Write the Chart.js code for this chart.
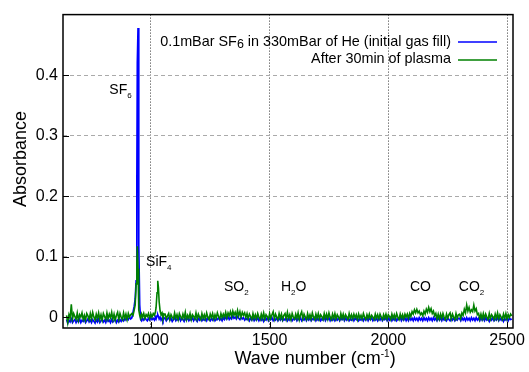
<!DOCTYPE html>
<html>
<head>
<meta charset="utf-8">
<script src="https://cdn.jsdelivr.net/npm/chart.js@4.4.1/dist/chart.umd.min.js"></script>
<style>
  html, body { margin: 0; padding: 0; background: #fff; }
  #wrap { width: 529px; height: 372px; position: relative; }
</style>
</head>
<body>
<div id="wrap"><canvas id="spectrum"></canvas></div>
<script>
// Wave number (cm-1) of each sample, shared by both spectra
const waveNumbers = [
  // 645 - 915
  645, 650, 655, 660, 665, 670, 675, 680, 685, 690,
  695, 700, 705, 710, 715, 720, 725, 730, 735, 740,
  745, 750, 755, 760, 765, 770, 775, 780, 785, 790,
  795, 800, 805, 810, 815, 820, 825, 830, 835, 840,
  845, 850, 855, 860, 865, 870, 875, 880, 885, 890,
  895, 900, 905, 910, 915,
  // SF6 / SiF4 band
  920, 925, 930, 934, 938, 941, 943, 946, 948, 950,
  953, 957, 961, 965, 970, 975, 980, 985, 990, 995,
  1000, 1005, 1010, 1015, 1019, 1022, 1026, 1029, 1032, 1035,
  1039, 1043, 1047, 1051, 1055,
  // 1060 - 2075
  1060, 1065, 1070, 1075, 1080, 1085, 1090, 1095, 1100, 1105,
  1110, 1115, 1120, 1125, 1130, 1135, 1140, 1145, 1150, 1155,
  1160, 1165, 1170, 1175, 1180, 1185, 1190, 1195, 1200, 1205,
  1210, 1215, 1220, 1225, 1230, 1235, 1240, 1245, 1250, 1255,
  1260, 1265, 1270, 1275, 1280, 1285, 1290, 1295, 1300, 1305,
  1310, 1315, 1320, 1325, 1330, 1335, 1340, 1345, 1350, 1355,
  1360, 1365, 1370, 1375, 1380, 1385, 1390, 1395, 1400, 1405,
  1410, 1415, 1420, 1425, 1430, 1435, 1440, 1445, 1450, 1455,
  1460, 1465, 1470, 1475, 1480, 1485, 1490, 1495, 1500, 1505,
  1510, 1515, 1520, 1525, 1530, 1535, 1540, 1545, 1550, 1555,
  1560, 1565, 1570, 1575, 1580, 1585, 1590, 1595, 1600, 1605,
  1610, 1615, 1620, 1625, 1630, 1635, 1640, 1645, 1650, 1655,
  1660, 1665, 1670, 1675, 1680, 1685, 1690, 1695, 1700, 1705,
  1710, 1715, 1720, 1725, 1730, 1735, 1740, 1745, 1750, 1755,
  1760, 1765, 1770, 1775, 1780, 1785, 1790, 1795, 1800, 1805,
  1810, 1815, 1820, 1825, 1830, 1835, 1840, 1845, 1850, 1855,
  1860, 1865, 1870, 1875, 1880, 1885, 1890, 1895, 1900, 1905,
  1910, 1915, 1920, 1925, 1930, 1935, 1940, 1945, 1950, 1955,
  1960, 1965, 1970, 1975, 1980, 1985, 1990, 1995, 2000, 2005,
  2010, 2015, 2020, 2025, 2030, 2035, 2040, 2045, 2050, 2055,
  2060, 2065, 2070, 2075,
  // CO band
  2080, 2085, 2090, 2095, 2100, 2105, 2110, 2115, 2120, 2125,
  2130, 2135, 2140, 2145, 2150, 2155, 2160, 2165, 2170, 2175,
  2180, 2185, 2190, 2195, 2200, 2205, 2210,
  2215, 2220, 2225, 2230, 2235, 2240, 2245, 2250, 2255, 2260,
  2265, 2270, 2275, 2280, 2285, 2290, 2295,
  // CO2 band
  2300, 2305, 2310, 2315, 2320, 2325, 2330, 2335, 2340, 2345,
  2350, 2355, 2360, 2365, 2370, 2375, 2380, 2385, 2390,
  2395, 2400, 2405, 2410, 2415, 2420, 2425, 2430, 2435, 2440,
  2445, 2450, 2455, 2460, 2465, 2470, 2475, 2480, 2485, 2490,
  2495, 2500, 2505, 2510, 2515, 2520,
];

// 0.1mBar SF6 in 330mBar of He (initial gas fill) – blue
const initialFill = [
  -0.004, -0.010, -0.005, -0.008, -0.003, -0.009, -0.006, -0.004, -0.009, -0.005,
  -0.008, -0.003, -0.009, -0.005, -0.007, -0.004, -0.009, -0.006, -0.003, -0.008,
  -0.005, -0.009, -0.004, -0.007, -0.010, -0.004, -0.008, -0.003, -0.009, -0.006,
  -0.004, -0.008, -0.005, -0.009, -0.003, -0.007, -0.005, -0.009, -0.004, -0.008,
  -0.006, -0.003, -0.009, -0.005, -0.008, -0.004, -0.007, -0.003, -0.006, -0.002,
  -0.005, -0.001, -0.004, 0.000, -0.003,

  -0.001, 0.008, 0.018, 0.030, 0.060, 0.220, 0.420, 0.478, 0.360, 0.120,
  0.020, -0.004, -0.006, -0.002, -0.005, -0.001, -0.004, -0.006, -0.002, -0.005,
  -0.001, -0.004, -0.002, -0.005, 0.000, -0.003, 0.002, 0.004, 0.001, -0.003,
  0.000, -0.005, -0.002, -0.006, -0.001,

  -0.002, -0.006, -0.003, -0.001, -0.005, -0.002, -0.007, -0.004, -0.001, -0.006,
  -0.003, -0.005, -0.001, -0.006, -0.002, -0.004, -0.007, -0.002, -0.005, -0.001,
  -0.006, -0.003, -0.005, -0.001, -0.006, -0.002, -0.004, -0.007, -0.002, -0.005,
  -0.001, -0.006, -0.003, -0.005, -0.002, -0.006, -0.001, -0.004, -0.006, -0.002,
  -0.005, -0.001, -0.006, -0.003, -0.004, -0.001, -0.005, -0.002, -0.006, -0.001,
  -0.004, 0.000, -0.003, 0.001, -0.004, -0.001, -0.003, 0.002, -0.002, 0.000,
  -0.003, 0.001, -0.002, -0.004, 0.000, -0.003, -0.001, -0.005, -0.002, -0.004,
  -0.001, -0.006, -0.002, -0.005, -0.001, -0.006, -0.003, -0.005, -0.001, -0.006,
  -0.002, -0.005, -0.001, -0.007, -0.003, -0.005, -0.001, -0.006, -0.002, -0.004,
  -0.001, -0.006, -0.003, -0.005, -0.001, -0.006, -0.002, -0.005, -0.001, -0.006,
  -0.003, -0.005, -0.001, -0.006, -0.002, -0.005, -0.001, -0.006, -0.003, -0.004,
  -0.001, -0.006, -0.002, -0.005, -0.001, -0.006, -0.003, -0.005, -0.001, -0.006,
  -0.002, -0.005, -0.001, -0.006, -0.003, -0.004, -0.001, -0.006, -0.002, -0.005,
  -0.001, -0.006, -0.003, -0.005, -0.001, -0.006, -0.002, -0.004, -0.001, -0.006,
  -0.002, -0.005, -0.001, -0.006, -0.003, -0.005, -0.001, -0.006, -0.002, -0.004,
  -0.001, -0.006, -0.002, -0.005, -0.001, -0.006, -0.003, -0.005, -0.001, -0.006,
  -0.002, -0.004, -0.001, -0.006, -0.003, -0.005, -0.001, -0.006, -0.002, -0.005,
  -0.001, -0.006, -0.002, -0.004, -0.001, -0.006, -0.003, -0.005, -0.001, -0.006,
  -0.002, -0.005, -0.001, -0.006, -0.003, -0.004, -0.001, -0.006, -0.002, -0.005,
  -0.001, -0.006, -0.002, -0.005, -0.001, -0.006, -0.003, -0.004, -0.001, -0.006,
  -0.002, -0.005, -0.001, -0.006,

  -0.002, -0.006, -0.001, -0.005, -0.002, -0.006, -0.001, -0.005, -0.002, -0.006,
  -0.001, -0.005, -0.002, -0.006, -0.001, -0.005, -0.002, -0.006, -0.001, -0.005,
  -0.002, -0.006, -0.001, -0.005, -0.002, -0.006, -0.001,
  -0.005, -0.002, -0.006, -0.001, -0.005, -0.003, -0.006, -0.001, -0.004, -0.006,
  -0.002, -0.005, -0.001, -0.006, -0.003, -0.005, -0.002,

  -0.002, -0.006, -0.001, -0.005, -0.002, -0.006, -0.001, -0.005, -0.002, -0.006,
  -0.001, -0.005, -0.002, -0.006, -0.001, -0.005, -0.002, -0.006, -0.001,
  -0.005, -0.002, -0.006, -0.001, -0.005, -0.003, -0.007, -0.002, -0.005, -0.001,
  -0.006, -0.003, -0.005, -0.001, -0.006, -0.002, -0.005, -0.001, -0.007, -0.003,
  -0.005, -0.001, -0.006, -0.002, -0.004, -0.003,
];

// After 30min of plasma – green
const afterPlasma = [
  0.003, -0.009, 0.004, -0.002, 0.021, -0.003, 0.006, 0.001, -0.004, 0.007,
  -0.005, 0.004, 0.000, 0.007, -0.004, 0.003, -0.005, 0.006, 0.002, -0.004,
  0.006, -0.003, 0.008, 0.000, -0.005, 0.005, -0.002, 0.007, -0.004, 0.004,
  -0.005, 0.006, 0.001, -0.004, 0.007, -0.003, 0.005, -0.001, 0.008, -0.004,
  0.005, -0.005, 0.003, 0.008, -0.004, 0.006, 0.000, -0.004, 0.007, -0.002,
  0.005, -0.004, 0.006, 0.000, 0.004,

  0.006, 0.003, 0.012, 0.020, 0.055, 0.090, 0.117, 0.080, 0.035, 0.012,
  0.003, -0.002, 0.005, 0.000, 0.006, -0.002, 0.004, 0.001, 0.006, -0.002,
  0.005, 0.000, 0.006, 0.003, 0.008, 0.016, 0.040, 0.060, 0.048, 0.025,
  0.010, 0.004, 0.007, -0.002, 0.005,

  0.005, -0.003, 0.002, 0.006, -0.004, 0.004, 0.000, -0.003, 0.007, -0.002,
  0.004, -0.004, 0.006, 0.001, -0.003, 0.005, -0.002, 0.008, -0.004, 0.003,
  -0.002, 0.006, -0.004, 0.004, 0.001, -0.003, 0.007, -0.003, 0.005, 0.000,
  -0.004, 0.006, -0.002, 0.004, -0.003, 0.007, 0.000, -0.004, 0.005, -0.001,
  0.006, -0.003, 0.004, -0.002, 0.007, 0.001, -0.003, 0.006, -0.001, 0.005,
  0.000, 0.008, -0.001, 0.007, 0.002, 0.009, 0.001, 0.010, 0.003, 0.008,
  0.001, 0.011, 0.002, 0.009, 0.000, 0.008, 0.003, 0.007, -0.001, 0.006,
  -0.003, 0.005, 0.001, -0.004, 0.006, -0.002, 0.004, -0.003, 0.006, 0.000,
  -0.004, 0.005, -0.002, 0.007, -0.003, 0.004, 0.001, -0.004, 0.006, -0.002,
  0.004, 0.009, -0.003, 0.005, 0.000, -0.004, 0.006, -0.002, 0.005, -0.004,
  0.003, 0.006, -0.003, 0.008, -0.002, 0.004, -0.004, 0.006, 0.000, -0.003,
  0.005, -0.002, 0.007, -0.004, 0.004, 0.009, -0.003, 0.005, 0.000, -0.004,
  0.006, -0.002, 0.004, -0.003, 0.007, 0.000, -0.004, 0.005, -0.002, 0.006,
  -0.003, 0.004, 0.001, -0.004, 0.006, -0.002, 0.005, -0.003, 0.007, 0.000,
  -0.004, 0.005, -0.002, 0.006, -0.003, 0.004, 0.000, -0.004, 0.006, -0.002,
  0.005, -0.003, 0.004, 0.000, -0.004, 0.006, -0.002, 0.004, -0.003, 0.005,
  -0.001, 0.004, -0.004, 0.005, -0.002, 0.003, -0.003, 0.006, 0.000, -0.004,
  0.004, -0.002, 0.005, -0.003, 0.003, 0.000, -0.004, 0.005, -0.002, 0.004,
  -0.003, 0.005, 0.000, -0.004, 0.004, -0.002, 0.005, -0.003, 0.004, 0.001,
  -0.004, 0.005, -0.002, 0.004, -0.003, 0.006, 0.000, -0.004, 0.005, -0.002,
  0.004, -0.003, 0.005, 0.000,

  0.005, -0.002, 0.006, 0.001, 0.009, 0.005, 0.012, 0.007, 0.013, 0.007,
  0.010, 0.004, 0.007, 0.002, 0.010, 0.005, 0.013, 0.008, 0.016, 0.009,
  0.014, 0.006, 0.010, 0.002, 0.006, -0.003, 0.005,
  -0.003, 0.005, -0.002, 0.006, 0.000, -0.004, 0.005, -0.002, 0.004, 0.007,
  -0.003, 0.005, 0.000, -0.004, 0.006, -0.002, 0.004,

  0.005, -0.002, 0.007, 0.003, 0.013, 0.007, 0.020, 0.010, 0.016, 0.008,
  0.012, 0.009, 0.020, 0.010, 0.014, 0.004, 0.006, -0.003, 0.005,
  -0.003, 0.006, -0.002, 0.005, 0.000, -0.004, 0.006, -0.003, 0.004, 0.001,
  -0.004, 0.005, -0.002, 0.007, -0.003, 0.004, 0.000, -0.004, 0.005, -0.002,
  0.006, -0.003, 0.004, -0.001, 0.005, 0.002,
];

const seriesNames = [
  '0.1mBar SF6 in 330mBar of He (initial gas fill)',
  'After 30min of plasma',
];
const xTicks = [1000, 1500, 2000, 2500];
const yTicks = [0, 0.1, 0.2, 0.3, 0.4];

const FONT = '"Liberation Sans", Arial, Helvetica, sans-serif';
const BLUE = '#0000ff';
const GREEN = '#008000';

// ── text with sub/superscripts ───────────────────────────────────────────────
function drawRich(ctx, parts, x, y, align) {
  let total = 0;
  parts.forEach(p => {
    ctx.font = `${p.size}px ${FONT}`;
    p.w = ctx.measureText(p.t).width;
    total += p.w;
  });
  let cx = align === 'right' ? x - total : align === 'center' ? x - total / 2 : x;
  ctx.textAlign = 'left';
  ctx.textBaseline = 'alphabetic';
  parts.forEach(p => {
    ctx.font = `${p.size}px ${FONT}`;
    ctx.fillText(p.t, cx, y + (p.dy || 0));
    cx += p.w;
  });
}

// ── frame, inner ticks, titles, peak labels, legend ──────────────────────────
const decorations = {
  id: 'decorations',
  afterDatasetsDraw(chart) {
    const { ctx, chartArea: a, scales: { x, y } } = chart;
    ctx.save();
    ctx.strokeStyle = '#000';
    ctx.lineWidth = 1;
    ctx.beginPath();
    yTicks.forEach(v => {
      const py = Math.round(y.getPixelForValue(v)) + 0.5;
      ctx.moveTo(a.left, py); ctx.lineTo(a.left + 6, py);
    });
    xTicks.forEach(v => {
      const px = Math.round(x.getPixelForValue(v)) + 0.5;
      ctx.moveTo(px, a.bottom); ctx.lineTo(px, a.bottom - 6);
    });
    ctx.stroke();
    ctx.lineWidth = 1.5;
    ctx.strokeRect(a.left, a.top, a.right - a.left, a.bottom - a.top);

    ctx.fillStyle = '#000';
    // peak labels anchored in data units (left edge, baseline)
    const labels = [
      { parts: ['SF', '6'], wn: 825, ab: 0.368 },
      { parts: ['SiF', '4'], wn: 980, ab: 0.085 },
      { parts: ['SO', '2'], wn: 1308, ab: 0.043 },
      { parts: ['H', '2', 'O'], wn: 1548, ab: 0.043 },
      { parts: ['CO'], wn: 2091, ab: 0.043 },
      { parts: ['CO', '2'], wn: 2297, ab: 0.043 },
    ];
    labels.forEach(l => {
      const parts = l.parts.map((t, i) =>
        i % 2 === 1 ? { t, size: 8, dy: 4 } : { t, size: 14 });
      drawRich(ctx, parts, x.getPixelForValue(l.wn), y.getPixelForValue(l.ab), 'left');
    });

    // legend
    drawRich(ctx, [
      { t: '0.1mBar SF', size: 14.4 },
      { t: '6', size: 12.5, dy: 2.6 },
      { t: ' in 330mBar of He (initial gas fill)', size: 14.4 },
    ], 451, 45.7, 'right');
    drawRich(ctx, [{ t: seriesNames[1], size: 14.4 }], 451, 63.3, 'right');
    ctx.lineWidth = 1.5;
    ctx.strokeStyle = BLUE;
    ctx.beginPath(); ctx.moveTo(458, 42); ctx.lineTo(497, 42); ctx.stroke();
    ctx.strokeStyle = GREEN;
    ctx.beginPath(); ctx.moveTo(458, 60); ctx.lineTo(497, 60); ctx.stroke();

    // axis titles
    drawRich(ctx, [
      { t: 'Wave number (cm', size: 18 },
      { t: '-1', size: 10, dy: -7 },
      { t: ')', size: 18 },
    ], 315, 364, 'center');
    ctx.translate(26, 159);
    ctx.rotate(-Math.PI / 2);
    drawRich(ctx, [{ t: 'Absorbance', size: 18 }], 0, 0, 'center');
    ctx.restore();
  },
};

const toPoints = ys => waveNumbers.map((wn, i) => ({ x: wn, y: ys[i] }));

new Chart(document.getElementById('spectrum'), {
  type: 'line',
  data: {
    datasets: [
      {
        label: seriesNames[0],
        data: toPoints(initialFill),
        borderColor: BLUE,
        borderWidth: 1.7,
        order: 1,
      },
      {
        label: seriesNames[1],
        data: toPoints(afterPlasma),
        borderColor: GREEN,
        borderWidth: 1.6,
        order: 0,
      },
    ],
  },
  options: {
    responsive: true,
    maintainAspectRatio: false,
    animation: false,
    layout: { padding: { top: 10, right: 16, left: 0, bottom: 0 } },
    elements: { point: { radius: 0 }, line: { tension: 0 } },
    plugins: { legend: { display: false }, tooltip: { enabled: false } },
    scales: {
      x: {
        type: 'linear',
        min: 630,
        max: 2525,
        afterBuildTicks: s => { s.ticks = xTicks.map(value => ({ value })); },
        afterFit: s => { s.height = 44; },
        grid: { color: '#333', drawTicks: false },
        border: { display: false, dash: [1, 2] },
        ticks: {
          color: '#000', font: { family: FONT, size: 16 }, padding: 3,
          maxRotation: 0, autoSkip: false,
          callback: v => String(v),
        },
      },
      y: {
        min: -0.018,
        max: 0.5,
        afterBuildTicks: s => { s.ticks = yTicks.map(value => ({ value })); },
        afterFit: s => { s.width = 63; },
        grid: {
          color: c => (c.tick && c.tick.value === 0 ? 'rgba(0,0,0,0)' : '#aaa'),
          drawTicks: false,
        },
        border: { display: false, dash: [4, 3] },
        ticks: {
          color: '#000', font: { family: FONT, size: 16 }, padding: 5,
          autoSkip: false,
          callback: v => (v === 0 ? '0' : v.toFixed(1)),
        },
      },
    },
  },
  plugins: [decorations],
});
</script>
</body>
</html>
